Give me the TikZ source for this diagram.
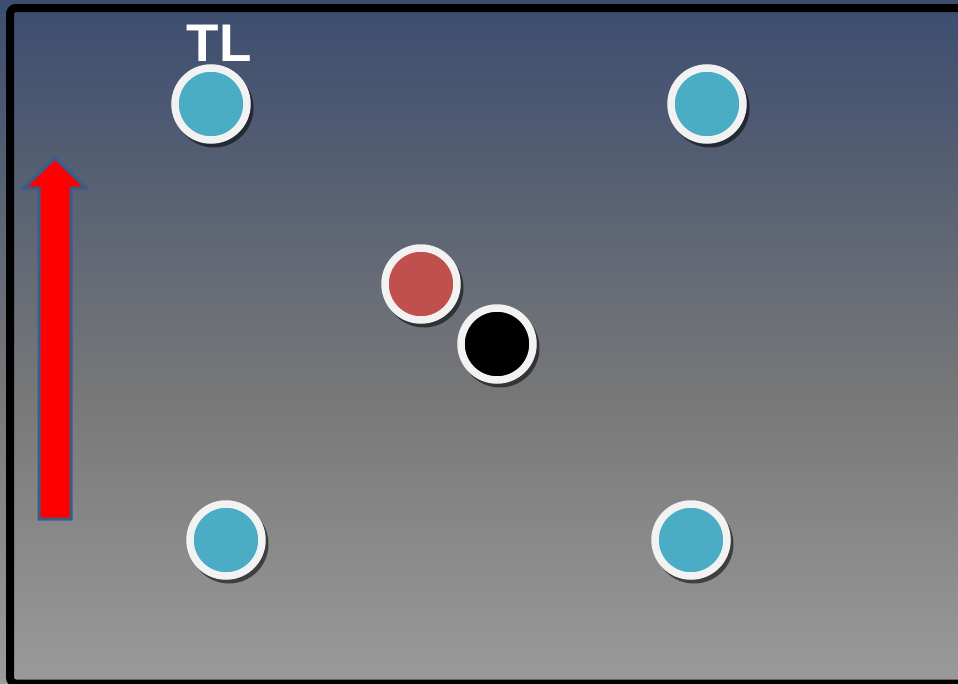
\documentclass[tikz,border=0pt]{standalone}
\usepackage{fontspec}
\setmainfont{Liberation Sans}
\definecolor{bgtop}{RGB}{60,77,111}
\definecolor{bgmid}{RGB}{120,120,120}
\definecolor{bgbot}{RGB}{154,154,154}
\definecolor{ringc}{RGB}{242,242,242}
\definecolor{cyanc}{RGB}{75,172,198}
\definecolor{redc}{RGB}{192,80,77}
\definecolor{arrowline}{RGB}{56,93,138}
\tikzset{
  dot/.style={circle, draw=ringc, line width=7.5pt, minimum size=72pt, inner sep=0pt},
  shadowc/.style={fill=black, opacity=0.55},
  arrowshape/.style={fill=red, draw=arrowline, line width=3pt, line join=miter},
  title/.style={text=white, font=\bfseries\fontsize{53}{53}\selectfont, inner sep=0pt}
}
\begin{document}
\begin{tikzpicture}[x=1pt,y=-1pt]
\useasboundingbox (0,0) rectangle (958,683);
\shade[top color=bgtop, bottom color=bgmid] (0,0) rectangle (958,400);
\shade[top color=bgmid, bottom color=bgbot] (0,399.5) rectangle (958,683);
\draw[line width=8pt, rounded corners=6pt] (10,8) -- (970,8) -- (970,683.5) -- (10,683.5) -- cycle;
% positions
\coordinate (ptl) at (211,104);
\coordinate (ptr) at (707,104);
\coordinate (pbl) at (226,540);
\coordinate (pbr) at (691,540);
\coordinate (pred) at (421,284);
\coordinate (pblk) at (497,344);
% shadows
\foreach \p in {ptl,ptr,pbl,pbr,pred,pblk}
  \fill[shadowc] ([shift={(3,4)}]\p) circle (39.5);
% dots
\node[dot, fill=cyanc] (tl) at (ptl) {};
\node[dot, fill=cyanc] (tr) at (ptr) {};
\node[dot, fill=cyanc] (bl) at (pbl) {};
\node[dot, fill=cyanc] (br) at (pbr) {};
\node[dot, fill=redc] (red) at (pred) {};
\node[dot, fill=black] (blk) at (pblk) {};
% label
\node[title, anchor=base] (lbl) at (219,61) {TL};
% arrow
\draw[arrowshape] (55,158) -- (86,188) -- (71,188) -- (71,519) -- (39,519) -- (39,188) -- (24,188) -- cycle;
\end{tikzpicture}
\end{document}
